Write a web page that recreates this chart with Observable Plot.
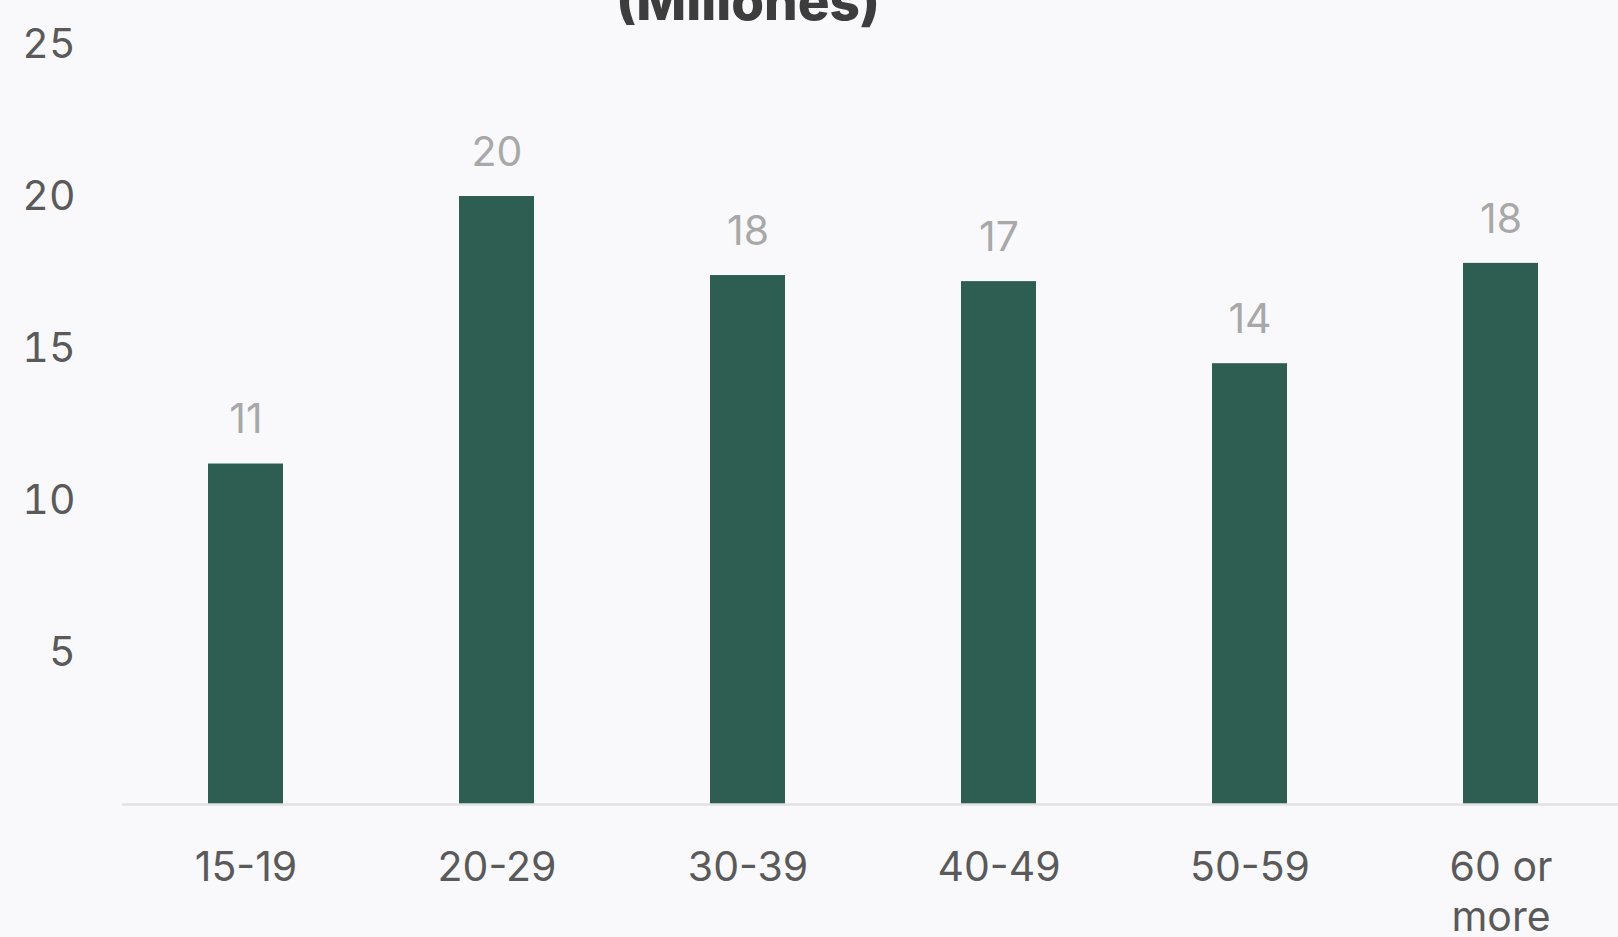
<!DOCTYPE html>
<html>
<head>
<meta charset="utf-8">
<script src="https://cdn.jsdelivr.net/npm/d3@7"></script>
<script src="https://cdn.jsdelivr.net/npm/@observablehq/plot@0.6"></script>
<style>
  html, body { margin: 0; padding: 0; background: #f9f9fc; overflow: hidden; }
  #wrap { position: relative; width: 1618px; height: 937px; }
  #title { position: absolute; left: 0; width: 1496px; top: -25px; text-align: center;
           font-family: Inter, "Open Sans", sans-serif; font-weight: 800; font-size: 53px;
           line-height: 1; color: #3d3d3d; }
  svg { display: block; }
</style>
</head>
<body>
<div id="wrap">
  <div id="chart"></div>
  <div id="title">(Millones)</div>
</div>
<script>
const categories = ["15-19", "20-29", "30-39", "40-49", "50-59", "60 or more"];
const tickLabels = ["15-19", "20-29", "30-39", "40-49", "50-59", "60 or\nmore"];
const values = [11.2, 20.0, 17.4, 17.2, 14.5, 17.8];
const valueLabels = ["11", "20", "18", "17", "14", "18"];
const yTicks = [5, 10, 15, 20, 25];

const data = categories.map((c, i) => ({cat: c, value: values[i], label: valueLabels[i]}));
const tickMap = new Map(categories.map((c, i) => [c, tickLabels[i]]));

const chart = Plot.plot({
  width: 1618,
  height: 937,
  marginTop: 44,
  marginBottom: 133,
  marginLeft: 129,
  marginRight: 0,
  style: {background: "transparent", fontFamily: "Inter, 'Open Sans', sans-serif"},
  x: {domain: categories, paddingInner: 0.7, paddingOuter: 0.31, label: null},
  y: {domain: [0, 25], label: null},
  marks: [
    Plot.barY(data, {x: "cat", y: "value", fill: "#2d5e51"}),
    Plot.ruleY([0], {stroke: "#e2e2e6", strokeWidth: 2.5, insetLeft: -7}),
    Plot.text(data, {x: "cat", y: "value", text: "label", dy: -44, lineAnchor: "middle",
      fill: "#a8a8a8", fontSize: 41}),
    Plot.axisY({ticks: yTicks, tickSize: 0, tickPadding: 54, fontSize: 41,
      color: "#5a5a5a", label: null}),
    Plot.axisX({tickSize: 0, tickPadding: 40, fontSize: 41, color: "#5a5a5a",
      tickFormat: d => tickMap.get(d), lineHeight: 1.24, label: null})
  ]
});
document.getElementById("chart").appendChild(chart);
</script>
</body>
</html>
